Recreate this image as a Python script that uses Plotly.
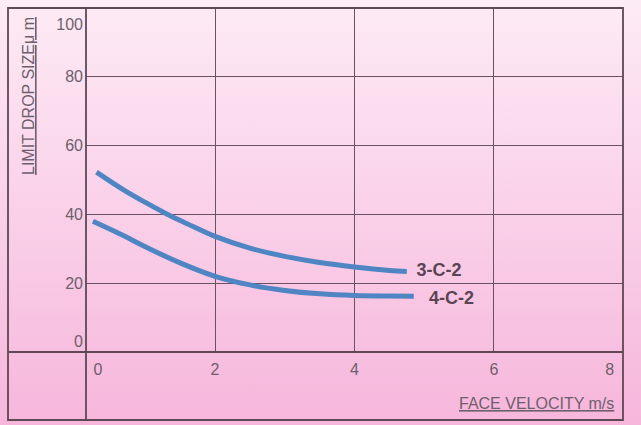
import base64
import plotly.graph_objects as go

# ---- data ----
vel_3c2 = [0.3, 0.7, 1.0, 1.3, 1.6, 2.0, 2.5, 3.0, 3.5, 4.0, 4.5, 4.75]
size_3c2 = [52.3, 47.0, 43.5, 40.2, 37.3, 33.6, 30.2, 27.8, 26.0, 24.7, 23.7, 23.4]

vel_4c2 = [0.25, 0.7, 1.0, 1.5, 2.0, 2.5, 3.0, 3.5, 4.0, 4.5, 4.85]
size_4c2 = [38.0, 33.7, 30.6, 25.9, 22.0, 19.5, 17.9, 16.9, 16.4, 16.25, 16.2]

series_names = ["3-C-2", "4-C-2"]
label_x = [4.89, 5.07]
label_y = [23.3, 15.3]

x_grid = [2, 4, 6]
y_grid = [20, 40, 60, 80]
x_tick_pos = [0.32, 2, 4, 6, 7.66]
x_tick_text = ["0", "2", "4", "6", "8"]
y_tick_pos = [3.2, 20, 40, 60, 80, 95.3]
y_tick_text = ["0", "20", "40", "60", "80", "100"]

X_RANGE = [0.15, 7.85]
Y_RANGE = [0, 100]

LINE_BLUE = "#4f85c2"
FRAME = "#5e4855"
GRID = "#6a5262"
TICK_COL = "#6e5f6c"
LABEL_COL = "#5a4453"
FONT = "Liberation Sans, Arial, sans-serif"

W, H = 641, 425
ML, MR, MT, MB = 86, 18, 8, 73
PW, PH = W - ML - MR, H - MT - MB

# background gradient as an SVG image
svg = f'''<svg xmlns="http://www.w3.org/2000/svg" width="{W}" height="{H}">
<defs><linearGradient id="g" x1="0" y1="0" x2="0" y2="1">
<stop offset="0" stop-color="#fdebf5"/>
<stop offset="0.45" stop-color="#fad3ea"/>
<stop offset="1" stop-color="#f6b6db"/>
</linearGradient></defs>
<rect width="{W}" height="{H}" fill="url(#g)"/></svg>'''
bg_src = "data:image/svg+xml;base64," + base64.b64encode(svg.encode()).decode()

fig = go.Figure()

for xs, ys in [(vel_3c2, size_3c2), (vel_4c2, size_4c2)]:
    fig.add_trace(go.Scatter(
        x=xs, y=ys, mode="lines",
        line=dict(color=LINE_BLUE, width=5, shape="spline", smoothing=1.0),
        hoverinfo="skip", showlegend=False,
    ))

fig.add_trace(go.Scatter(
    x=label_x, y=label_y, mode="text", text=series_names,
    textposition="middle right",
    textfont=dict(family=FONT, size=18, color=LABEL_COL, weight="bold"),
    xaxis="x2", yaxis="y2", hoverinfo="skip", showlegend=False,
))

px_x = lambda p: (p - ML) / PW
px_y = lambda p: (H - MB - p) / PH

fig.update_layout(
    width=W, height=H,
    margin=dict(l=ML, r=MR, t=MT, b=MB, pad=0),
    paper_bgcolor="#f9d0e8",
    plot_bgcolor="rgba(0,0,0,0)",
    font=dict(family=FONT),
    xaxis=dict(range=X_RANGE, tickmode="array", tickvals=x_grid, showticklabels=False,
               showgrid=True, gridcolor=GRID, gridwidth=1.2, zeroline=False,
               showline=False, ticks=""),
    yaxis=dict(range=Y_RANGE, tickmode="array", tickvals=y_grid, showticklabels=False,
               showgrid=True, gridcolor=GRID, gridwidth=1.2, zeroline=False,
               showline=False, ticks=""),
    xaxis2=dict(range=X_RANGE, overlaying="x", side="bottom", matches="x",
                tickmode="array", tickvals=x_tick_pos, ticktext=x_tick_text,
                showgrid=False, zeroline=False, showline=False, ticks="",
                ticklabelstandoff=6,
                tickfont=dict(family=FONT, size=16, color=TICK_COL)),
    yaxis2=dict(range=Y_RANGE, overlaying="y", side="left", matches="y",
                tickmode="array", tickvals=y_tick_pos, ticktext=y_tick_text,
                showgrid=False, zeroline=False, showline=False, ticks="",
                ticklabelstandoff=2,
                tickfont=dict(family=FONT, size=16, color=TICK_COL)),
    images=[dict(source=bg_src, xref="paper", yref="paper",
                 x=px_x(0), y=px_y(0), sizex=W / PW, sizey=H / PH,
                 sizing="stretch", xanchor="left", yanchor="top",
                 layer="below")],
    shapes=[
        dict(type="rect", xref="paper", yref="paper",
             x0=px_x(8), x1=px_x(623), y0=px_y(420), y1=px_y(8),
             line=dict(color=FRAME, width=1.8), layer="above"),
        dict(type="line", xref="paper", yref="paper",
             x0=0, x1=0, y0=px_y(420), y1=px_y(8),
             line=dict(color=FRAME, width=1.8), layer="above"),
        dict(type="line", xref="paper", yref="paper",
             x0=px_x(8), x1=px_x(623), y0=0, y1=0,
             line=dict(color=FRAME, width=1.8), layer="above"),
    ],
    annotations=[
        dict(text="LIMIT DROP SIZE\u03bc m", xref="paper", yref="paper",
             x=px_x(28), y=px_y(96), textangle=-90, showarrow=False,
             xanchor="center", yanchor="middle",
             font=dict(family=FONT, size=16, color=TICK_COL, lineposition="under")),
        dict(text="FACE VELOCITY m/s", xref="paper", yref="paper",
             x=px_x(536), y=px_y(403), showarrow=False,
             xanchor="center", yanchor="middle",
             font=dict(family=FONT, size=16, color=TICK_COL, lineposition="under")),
    ],
)

fig.write_html(
    "out.html",
    config={"displayModeBar": False},
    post_script="document.body.style.margin='0';document.body.style.background='#f9d0e8';",
)
